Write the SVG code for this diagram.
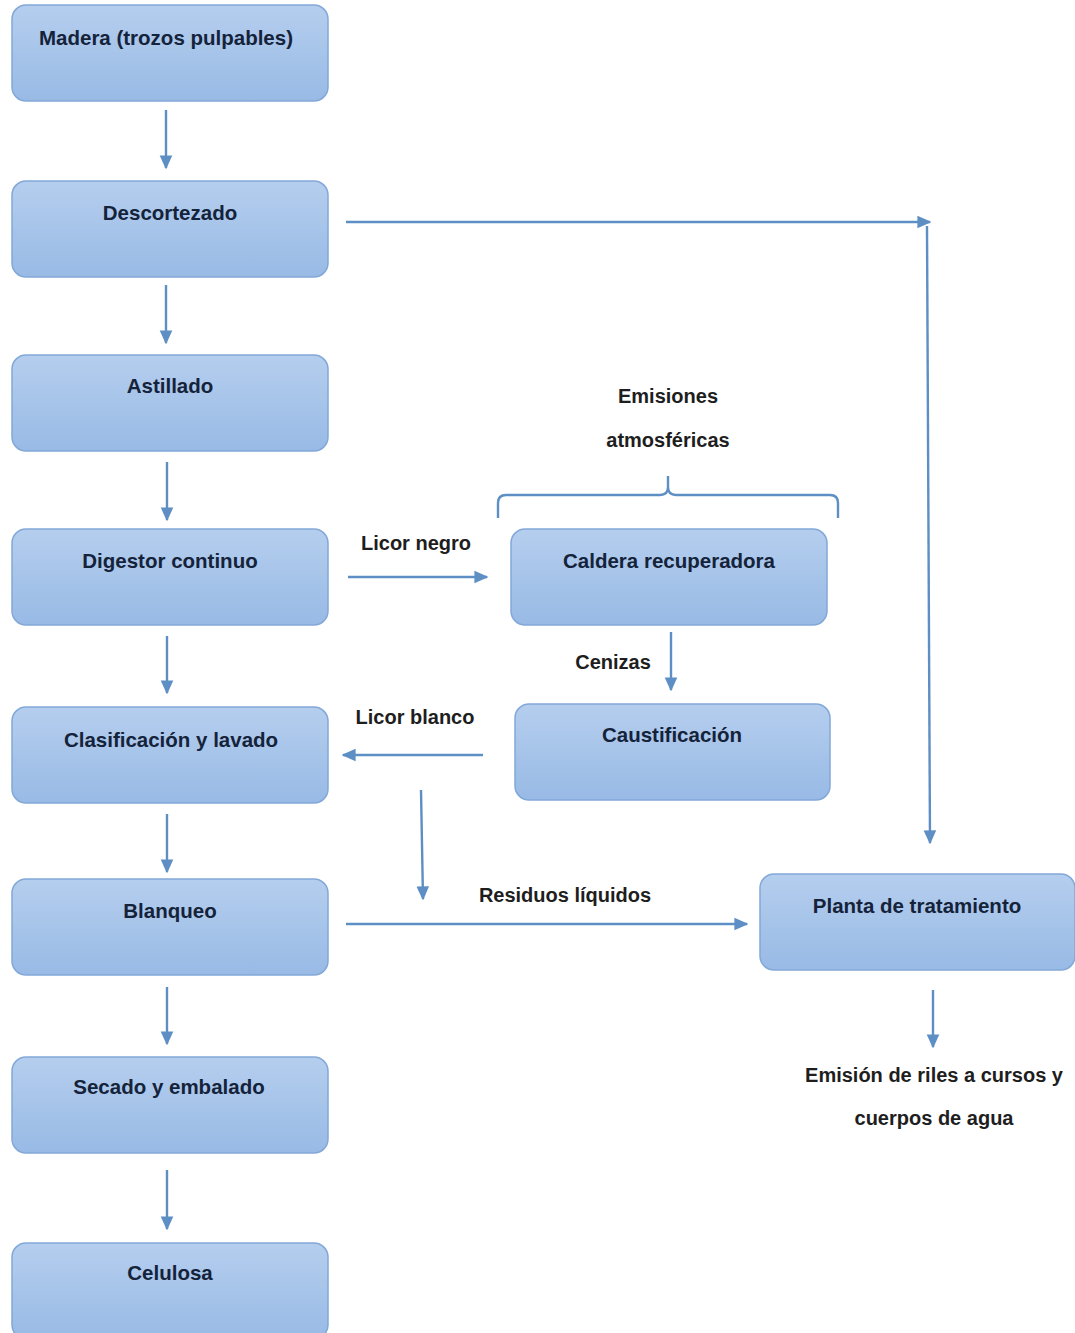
<svg xmlns="http://www.w3.org/2000/svg" width="1075" height="1333" viewBox="0 0 1075 1333">
<style>
.box{fill:url(#g);stroke:#82a8d8;stroke-width:1.5}
.t{font-family:"Liberation Sans",Arial,sans-serif;font-weight:bold;font-size:20.5px;fill:#14233a;text-anchor:middle}
.l{font-family:"Liberation Sans",Arial,sans-serif;font-weight:bold;font-size:20px;fill:#1e1e1e;text-anchor:middle}
.c{fill:none;stroke:#5e8fc4;stroke-width:2.4}
</style>
<defs>
<linearGradient id="g" x1="0" y1="0" x2="0" y2="1">
<stop offset="0" stop-color="#b5ceee"/>
<stop offset="1" stop-color="#98bae5"/>
</linearGradient>
<marker id="a" viewBox="0 0 10 10" refX="9" refY="5" markerWidth="14" markerHeight="14" orient="auto" markerUnits="userSpaceOnUse">
<path d="M0,0.5 L10,5 L0,9.5 z" fill="#5e8fc4"/>
</marker>
</defs>
<g id="connectors">
<path class="c" marker-end="url(#a)" d="M166,110 V168"/>
<path class="c" marker-end="url(#a)" d="M166,285 V343"/>
<path class="c" marker-end="url(#a)" d="M167,462 V520"/>
<path class="c" marker-end="url(#a)" d="M167,636 V693"/>
<path class="c" marker-end="url(#a)" d="M167,814 V872"/>
<path class="c" marker-end="url(#a)" d="M167,987 V1044"/>
<path class="c" marker-end="url(#a)" d="M167,1170 V1229"/>
<path class="c" marker-end="url(#a)" d="M346,222 H930"/>
<path class="c" marker-end="url(#a)" d="M927,226 L930,843"/>
<path class="c" marker-end="url(#a)" d="M348,577 H487"/>
<path class="c" marker-end="url(#a)" d="M671,632 V690"/>
<path class="c" marker-end="url(#a)" d="M483,755 H343"/>
<path class="c" marker-end="url(#a)" d="M421,790 L423,899"/>
<path class="c" marker-end="url(#a)" d="M346,924 H747"/>
<path class="c" marker-end="url(#a)" d="M933,990 V1047"/>
<path class="c" d="M498,518 V503 Q498,495 506,495 H660 Q668,495 668,487 V476 M668,487 Q668,495 676,495 H830 Q838,495 838,503 V518"/>
</g>
<g id="madera"><rect class="box" x="12" y="5" width="316" height="96" rx="14"/><text class="t" x="166" y="45">Madera (trozos pulpables)</text></g>
<g id="descortezado"><rect class="box" x="12" y="181" width="316" height="96" rx="14"/><text class="t" x="170" y="220">Descortezado</text></g>
<g id="astillado"><rect class="box" x="12" y="355" width="316" height="96" rx="14"/><text class="t" x="170" y="393">Astillado</text></g>
<g id="digestor"><rect class="box" x="12" y="529" width="316" height="96" rx="14"/><text class="t" x="170" y="568">Digestor continuo</text></g>
<g id="clasificacion"><rect class="box" x="12" y="707" width="316" height="96" rx="14"/><text class="t" x="171" y="747">Clasificación y lavado</text></g>
<g id="blanqueo"><rect class="box" x="12" y="879" width="316" height="96" rx="14"/><text class="t" x="170" y="918">Blanqueo</text></g>
<g id="secado"><rect class="box" x="12" y="1057" width="316" height="96" rx="14"/><text class="t" x="169" y="1094">Secado y embalado</text></g>
<g id="celulosa"><rect class="box" x="12" y="1243" width="316" height="96" rx="14"/><text class="t" x="170" y="1280">Celulosa</text></g>
<g id="caldera"><rect class="box" x="511" y="529" width="316" height="96" rx="14"/><text class="t" x="669" y="568">Caldera recuperadora</text></g>
<g id="caustificacion"><rect class="box" x="515" y="704" width="315" height="96" rx="14"/><text class="t" x="672" y="742">Caustificación</text></g>
<g id="planta"><rect class="box" x="760" y="874" width="315" height="96" rx="14"/><text class="t" x="917" y="913">Planta de tratamiento</text></g>
<g id="labels">
<text class="l" x="668" y="403">Emisiones</text>
<text class="l" x="668" y="447">atmosféricas</text>
<text class="l" x="416" y="550">Licor negro</text>
<text class="l" x="613" y="669">Cenizas</text>
<text class="l" x="415" y="724">Licor blanco</text>
<text class="l" x="565" y="902">Residuos líquidos</text>
<text class="l" x="934" y="1082">Emisión de riles a cursos y</text>
<text class="l" x="934" y="1125">cuerpos de agua</text>
</g>
</svg>
